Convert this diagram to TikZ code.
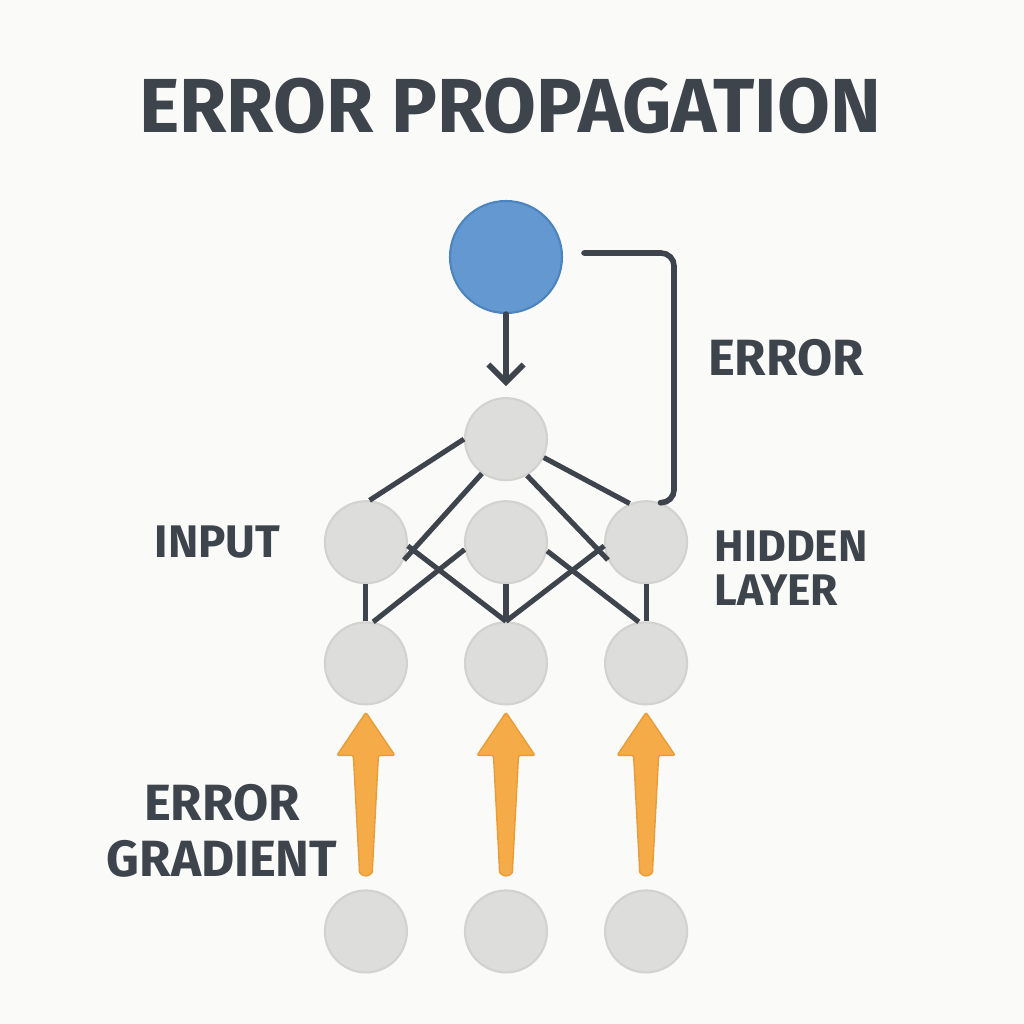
\documentclass[tikz,border=0pt]{standalone}
\usepackage{fontspec}
\setmainfont{Fira Sans}
\usepackage{xcolor}
\usepackage{tikz}
\usetikzlibrary{arrows.meta,positioning}

\definecolor{bg}{HTML}{FAFAF9}
\definecolor{ink}{HTML}{3E444C}
\definecolor{nodegray}{HTML}{DDDDDC}
\definecolor{nodeedge}{HTML}{D2D2D1}
\definecolor{outblue}{HTML}{6399D0}
\definecolor{outedge}{HTML}{4C84C0}
\definecolor{gradfill}{HTML}{F5AB48}
\definecolor{gradedge}{HTML}{EA9C36}

\begin{document}
\begin{tikzpicture}[
    node distance=0.56cm,
    neuron/.style={circle, fill=nodegray, draw=nodeedge, line width=0.6pt, minimum size=0.82cm, inner sep=0pt},
    output/.style={circle, fill=outblue, draw=outedge, line width=0.6pt, minimum size=1.12cm, inner sep=0pt},
    link/.style={draw=ink, line width=1.45pt},
    arrow/.style={-{Straight Barb[length=5pt,width=10pt]}, draw=ink, line width=1.6pt, line cap=round},
    grad/.style={fill=gradfill, draw=gradedge, line width=0.4pt, rounded corners=0.6pt},
    title/.style={text=ink, font=\bfseries\fontsize{21.8}{26}\selectfont, inner sep=0pt},
    label/.style={text=ink, font=\bfseries\fontsize{14.5}{16}\selectfont, inner sep=0pt}
  ]
    \fill[bg] (0,0) rectangle (10.24,-10.24);

    \node[title] (title) at (5.10,-1.06) {ERROR PROPAGATION};

    \node[output] (out) at (5.06,-2.57) {};
    \node[neuron, below=0.83cm of out] (top) {};
    \node[neuron, below=0.19cm of top] (b1) {};
    \node[neuron, left=of b1] (a1) {};
    \node[neuron, right=of b1] (c1) {};
    \node[neuron, below=0.37cm of a1] (a2) {};
    \node[neuron, below=0.37cm of b1] (b2) {};
    \node[neuron, below=0.37cm of c1] (c2) {};
    \node[neuron, below=1.84cm of a2] (a3) {};
    \node[neuron, below=1.84cm of b2] (b3) {};
    \node[neuron, below=1.84cm of c2] (c3) {};

    \node[label] (errlbl) at (7.86,-3.58) {ERROR};
    \node[label, left=0.43cm of a1, font=\bfseries\fontsize{13}{16}\selectfont] (inlbl) {INPUT};
    \node[label, anchor=west, align=left, font=\bfseries\fontsize{12.6}{12.6}\selectfont] (hidlbl) at (7.14,-5.68) {HIDDEN\\LAYER};
    \node[label, align=center] (gradlbl) at (2.22,-8.31) {ERROR\\GRADIENT};

    % output to hidden
    \draw[arrow, shorten >=0.11cm] (out) -- (top);
    \draw[link, line width=1.6pt, line cap=round, rounded corners=0.13cm]
      ([xshift=0.21cm,yshift=0.04cm]out.east) -- ++(0.9,0) |- (c1.70);

    % hidden layer links
    \draw[link] (top.180) -- (a1.85);
    \draw[link] (top.-26) -- (c1.113);
    \draw[link] (top.235) -- (a1.-25);
    \draw[link] (top.-60) -- (c1.205);

    \draw[link] (a1.south) -- (a2.north);
    \draw[link] (b1.south) -- (b2.north);
    \draw[link] (c1.south) -- (c2.north);
    \draw[link] (a1.-5) -- (b2.north);
    \draw[link] (b1.190) -- (a2.80);
    \draw[link] (b1.-12) -- (c2.100);
    \draw[link] (c1.185) -- (b2.north);

    % error gradient arrows
    \fill[grad] ([yshift=-0.07cm]a2.south) -- ++(0.29,-0.43) -- ++(-0.165,0) -- ++(-0.06,-1.14)
      arc[start angle=0, end angle=-180, radius=0.065] -- ++(-0.06,1.14) -- ++(-0.165,0) -- cycle;
    \fill[grad] ([yshift=-0.07cm]b2.south) -- ++(0.29,-0.43) -- ++(-0.165,0) -- ++(-0.06,-1.14)
      arc[start angle=0, end angle=-180, radius=0.065] -- ++(-0.06,1.14) -- ++(-0.165,0) -- cycle;
    \fill[grad] ([yshift=-0.07cm]c2.south) -- ++(0.29,-0.43) -- ++(-0.165,0) -- ++(-0.06,-1.14)
      arc[start angle=0, end angle=-180, radius=0.065] -- ++(-0.06,1.14) -- ++(-0.165,0) -- cycle;
  \end{tikzpicture}
\end{document}
